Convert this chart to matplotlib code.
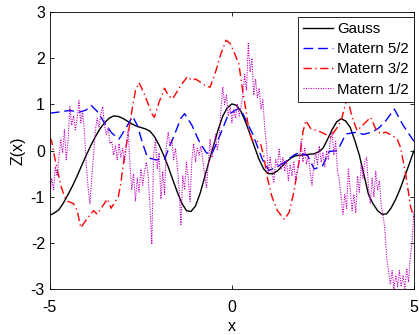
import numpy as np
import matplotlib
matplotlib.use('Agg')
import matplotlib.pyplot as plt

plt.rcParams['font.family'] = ['Liberation Sans', 'DejaVu Sans']
plt.rcParams['axes.unicode_minus'] = False

# Gauss kernel sample (smooth)
gauss_x = [-5.0, -4.875, -4.75, -4.625, -4.5, -4.375, -4.25, -4.125, -4.0, -3.875,
           -3.75, -3.625, -3.5, -3.375, -3.25, -3.125, -3.0, -2.875, -2.75, -2.625,
           -2.5, -2.375, -2.25, -2.125, -2.0, -1.875, -1.75, -1.625, -1.5, -1.375,
           -1.25, -1.125, -1.0, -0.875, -0.75, -0.625, -0.5, -0.375, -0.25, -0.125,
           0.0, 0.125, 0.25, 0.375, 0.5, 0.625, 0.75, 0.875, 1.0, 1.125,
           1.25, 1.375, 1.5, 1.625, 1.75, 1.875, 2.0, 2.125, 2.25, 2.375,
           2.5, 2.625, 2.75, 2.875, 3.0, 3.125, 3.25, 3.375, 3.5, 3.625,
           3.75, 3.875, 4.0, 4.125, 4.25, 4.375, 4.5, 4.625, 4.75, 4.875, 5.0]
gauss_y = [-1.40, -1.35, -1.28, -1.13, -0.95, -0.76, -0.55, -0.32, -0.10, 0.11,
           0.30, 0.47, 0.60, 0.70, 0.75, 0.74, 0.70, 0.64, 0.58, 0.53,
           0.50, 0.47, 0.42, 0.30, 0.12, -0.10, -0.35, -0.63, -0.90, -1.14,
           -1.30, -1.32, -1.20, -0.93, -0.58, -0.22, 0.12, 0.46, 0.75, 0.93,
           1.01, 0.98, 0.85, 0.62, 0.35, 0.07, -0.20, -0.40, -0.50, -0.50,
           -0.44, -0.34, -0.24, -0.16, -0.11, -0.10, -0.09, -0.08, -0.07, -0.03,
           0.05, 0.24, 0.45, 0.62, 0.69, 0.64, 0.50, 0.22, -0.10, -0.52,
           -0.95, -1.15, -1.30, -1.38, -1.37, -1.24, -1.05, -0.82, -0.55, -0.28, 0.00]

# Matern 5/2 sample
m52_x = [-5.0, -4.7, -4.45, -4.2, -4.0, -3.87, -3.7, -3.5, -3.3, -3.1,
         -2.9, -2.73, -2.6, -2.45, -2.32, -2.1, -1.85, -1.6, -1.4, -1.3,
         -1.1, -0.9, -0.7, -0.55, -0.35, -0.1, 0.15, 0.3, 0.57, 0.84,
         1.02, 1.25, 1.5, 1.7, 1.85, 2.08, 2.26, 2.49, 2.67, 2.9,
         3.13, 3.45, 3.6, 3.86, 4.05, 4.23, 4.46, 4.7, 5.0]
m52_y = [0.81, 0.84, 0.87, 0.83, 0.88, 0.98, 0.85, 0.60, 0.38, 0.25,
         0.50, 0.74, 0.55, 0.15, -0.15, -0.20, -0.18, 0.30, 0.70, 0.80,
         0.55, 0.20, -0.05, -0.07, 0.29, 0.78, 0.90, 0.80, 0.36, -0.20,
         -0.43, -0.35, -0.22, -0.10, -0.04, -0.11, -0.40, -0.33, -0.02, 0.00,
         0.36, 0.40, 0.35, 0.40, 0.50, 0.65, 0.90, 0.55, 0.20]

# Matern 3/2 sample
m32_x = [-5.0, -4.95, -4.88, -4.8, -4.7, -4.6, -4.5, -4.35, -4.25, -4.15,
         -4.0, -3.8, -3.7, -3.55, -3.42, -3.32, -3.2, -3.12, -3.05, -2.95,
         -2.85, -2.75, -2.65, -2.55, -2.42, -2.32, -2.2, -2.13, -2.0, -1.85,
         -1.75, -1.63, -1.45, -1.32, -1.22, -1.1, -1.0, -0.9, -0.75, -0.6,
         -0.45, -0.3, -0.16, -0.05, 0.05, 0.19, 0.28, 0.37, 0.47, 0.56,
         0.7, 0.79, 0.88, 0.97, 1.1, 1.25, 1.44, 1.57, 1.7, 1.85,
         1.95, 2.03, 2.17, 2.35, 2.5, 2.71, 2.89, 3.0, 3.17, 3.3,
         3.44, 3.63, 3.81, 3.95, 4.08, 4.22, 4.4, 4.54, 4.63, 4.77,
         4.91, 5.0]
m32_y = [0.29, 0.20, -0.10, -0.40, -0.75, -1.00, -1.10, -1.15, -1.30, -1.67,
         -1.50, -1.30, -1.38, -1.20, -1.05, -1.25, -1.10, -1.00, -0.70, -0.10,
         0.35, 0.85, 1.30, 1.47, 1.25, 1.05, 0.80, 0.72, 1.05, 1.35,
         1.20, 1.12, 1.35, 1.50, 1.60, 1.52, 1.55, 1.50, 1.42, 1.37,
         1.70, 2.10, 2.39, 2.32, 2.15, 1.88, 1.38, 0.94, 0.43, 0.22,
         0.20, 0.14, -0.14, -0.58, -1.00, -1.30, -1.49, -1.34, -0.90, -0.22,
         0.40, 0.65, 0.47, 0.43, 0.38, 0.29, 0.50, 0.65, 1.16, 0.72,
         0.43, 0.58, 0.72, 0.47, 0.36, 0.40, 0.33, 0.25, 0.07, -0.50,
         -1.23, -1.45]

# Matern 1/2 sample (rough), read every 0.05 from -5 to 5
m12_x = np.linspace(-5, 5, 201)
m12_y = [-1.05, -0.60, -0.85, -0.35, -0.55, -0.15, 0.25, -0.05, 0.45, -0.20,
         0.20, 0.95, 0.55, 0.75, 0.45, 0.70, 1.08, 0.60, 0.85, 0.40,
         -0.30, -0.80, -1.15, -0.60, -0.10, 0.45, 0.70, 0.50, 0.80, 0.95,
         0.55, 0.35, 0.50, 0.15, 0.20, -0.10, 0.10, -0.20, 0.15, -0.15,
         0.05, -0.25, 0.10, 0.45, -0.30, -0.85, -0.50, -1.10, -0.60, -0.90,
         -0.40, -0.75, -0.45, -0.25, -0.55, -1.20, -2.03, -0.10, 0.25, -0.40,
         -0.05, -1.05, -0.45, -0.95, 0.10, 0.40, 0.10, 0.25, -0.20, 0.05,
         -0.35, -0.85, -1.60, -0.55, -0.85, -0.25, -0.60, -1.10, -0.20, 0.15,
         -0.25, 0.05, -0.10, 0.10, -0.20, -0.50, -0.80, -0.30, 0.25, -0.15,
         0.10, 0.35, 0.00, 0.30, 0.90, 1.38, 1.00, 1.20, 0.75, 0.95,
         0.60, 0.90, 0.70, 1.00, 0.75, 0.95, 1.20, 1.65, 1.30, 2.32,
         1.70, 2.00, 1.20, 1.55, 1.15, 1.35, 0.90, 1.10, 0.50, 0.10,
         -0.50, -0.15, -0.45, -0.70, -0.20, -0.35, 0.05, -0.40, -0.15, -0.45,
         -0.20, -0.65, -0.30, -0.55, -0.25, -0.65, -0.40, -0.20, 0.20, -0.25,
         0.05, -0.30, -0.10, -0.45, -0.75, -0.30, -0.05, -0.30, 0.10, -0.25,
         -0.05, -0.35, 0.00, -0.20, 0.20, 0.40, -0.10, 0.20, -0.45, -0.65,
         -1.00, -1.38, -0.95, -1.25, -0.40, -0.85, -1.30, -0.95, -1.35, -0.55,
         -0.90, -0.30, -0.60, -0.25, -0.15, -0.80, -1.15, -0.60, -1.00, -0.45,
         -0.85, -0.65, -1.20, -1.40, -1.70, -2.30, -2.60, -2.90, -2.60, -3.00,
         -2.70, -2.95, -2.60, -2.95, -2.70, -3.00, -2.55, -2.85, -2.30, -1.95,
         -1.30]

fig = plt.figure(figsize=(4.19, 3.35), dpi=100)
ax = fig.add_axes([0.119, 0.137, 0.869, 0.827])

ax.plot(gauss_x, gauss_y, color='k', lw=1.0, label='Gauss')
ax.plot(m52_x, m52_y, color='b', lw=1.0, dashes=(7, 3.5), label='Matern 5/2')
ax.plot(m32_x, m32_y, color='r', lw=1.0, dashes=(6, 2.5, 1, 2.5), label='Matern 3/2')
ax.plot(m12_x, m12_y, color='m', lw=0.8, dashes=(1, 1.2), label='Matern 1/2')

ax.set_xlim(-5, 5)
ax.set_ylim(-3, 3)
ax.set_xticks([-5, 0, 5])
ax.set_yticks([-3, -2, -1, 0, 1, 2, 3])
ax.tick_params(direction='in', top=True, right=True, length=3, width=0.6,
               labelsize=11.5)
ax.tick_params(axis='x', pad=7.5)
ax.tick_params(axis='y', pad=3.5)
for s in ax.spines.values():
    s.set_linewidth(0.6)
ax.set_xlabel('x', fontsize=11.5, labelpad=3)
ax.set_ylabel('Z(x)', fontsize=11.5, labelpad=4)

leg = ax.legend(loc='upper right', bbox_to_anchor=(0.999, 0.982), borderaxespad=0,
                fontsize=10.8, frameon=True, fancybox=False, framealpha=1,
                edgecolor='k', handlelength=2.0, labelspacing=0.42,
                handletextpad=0.3, borderpad=0.32)
leg.get_frame().set_linewidth(0.6)

fig.savefig('out.png', dpi=100)
